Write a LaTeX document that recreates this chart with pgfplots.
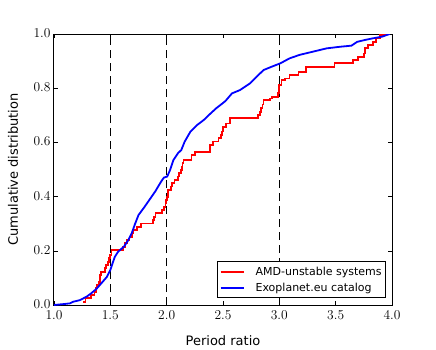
\documentclass[border=0pt]{standalone}
\usepackage{fontspec}
\usepackage{pgfplots}
\pgfplotsset{compat=1.18}
\newfontfamily\dejavu{DejaVu Sans}
\begin{document}
\begin{tikzpicture}
\begin{axis}[
  scale only axis, width=338pt, height=271pt,
  xmin=1, xmax=4, ymin=0, ymax=1,
  xtick={1,1.5,2,2.5,3,3.5,4},
  ytick={0,0.2,0.4,0.6,0.8,1},
  /pgf/number format/assume math mode=true,
  xticklabel style={/pgf/number format/.cd,fixed,fixed zerofill,precision=1,/tikz/.cd,yshift=-2pt},
  yticklabel style={/pgf/number format/.cd,fixed,fixed zerofill,precision=1,/tikz/.cd,yshift=1pt},
  ticklabel style={font=\fontsize{13.5}{15}\selectfont},
  tick align=inside, major tick length=4pt,
  tick style={black, line width=0.6pt},
  axis line style={black, line width=1pt},
  xlabel={Period ratio}, ylabel={Cumulative distribution},
  label style={font=\dejavu\fontsize{13}{15}\selectfont},
  xlabel style={at={(axis description cs:0.5,-0.1476)}, anchor=base},
  ylabel style={at={(axis description cs:-0.1065,0.5)}, anchor=base, rotate=0},
  legend style={at={(axis description cs:0.9822,0.0258)}, anchor=south east,
    draw=black, line width=0.8pt, font=\dejavu\fontsize{11}{13}\selectfont,
    inner xsep=2pt, inner ysep=3pt, row sep=2pt,
    nodes={inner sep=2pt},
    /tikz/every odd column/.append style={column sep=9pt}},
  legend cell align=left,
  legend image code/.code={\draw[#1, line width=1.8pt] (0pt,0pt) -- (23pt,0pt);},
  clip=true,
]
\addplot [black, line width=1.6pt, dash pattern=on 8pt off 5pt, forget plot] coordinates {(1.5,0) (1.5,1)};
\addplot [black, line width=1.6pt, dash pattern=on 8pt off 5pt, forget plot] coordinates {(2,0) (2,1)};
\addplot [black, line width=1.6pt, dash pattern=on 8pt off 5pt, forget plot] coordinates {(3,0) (3,1)};
\addplot [red, line width=1.8pt, const plot mark left] coordinates {
(1.26,0.012) (1.28,0.025) (1.33,0.037) (1.36,0.049) (1.37,0.062) (1.38,0.074)
(1.40,0.086) (1.405,0.099) (1.41,0.111) (1.42,0.123) (1.45,0.136) (1.46,0.148)
(1.48,0.160) (1.49,0.173) (1.50,0.185) (1.51,0.203) (1.61,0.215) (1.63,0.228)
(1.645,0.240) (1.67,0.252) (1.69,0.265) (1.70,0.277) (1.74,0.289) (1.77,0.301)
(1.88,0.314) (1.89,0.326) (1.90,0.339) (1.96,0.351) (1.975,0.363) (1.99,0.376)
(1.995,0.388) (2.005,0.400) (2.01,0.412) (2.015,0.424) (2.04,0.437) (2.05,0.449)
(2.07,0.461) (2.10,0.474) (2.11,0.486) (2.125,0.498) (2.135,0.510) (2.14,0.523)
(2.15,0.535) (2.22,0.554) (2.25,0.566) (2.385,0.590) (2.41,0.603) (2.46,0.615)
(2.48,0.627) (2.49,0.640) (2.50,0.658) (2.53,0.670) (2.56,0.689) (2.81,0.701)
(2.83,0.713) (2.84,0.726) (2.85,0.740) (2.86,0.756) (2.92,0.762) (2.935,0.768)
(2.99,0.781) (2.995,0.795) (3.00,0.812) (3.02,0.830) (3.05,0.836) (3.09,0.849)
(3.17,0.861) (3.24,0.879) (3.49,0.892) (3.655,0.904) (3.70,0.916) (3.75,0.928)
(3.76,0.947) (3.79,0.959) (3.83,0.971) (3.86,0.984) (3.89,0.996) (3.93,1.0) (3.97,1.0)
};
\addlegendentry{AMD-unstable systems}
\addplot [blue, line width=1.8pt] coordinates {
(1.00,0.000) (1.05,0.002) (1.10,0.004) (1.14,0.006) (1.17,0.012) (1.23,0.018)
(1.29,0.031) (1.33,0.043) (1.38,0.061) (1.42,0.080) (1.47,0.104) (1.50,0.129)
(1.52,0.154) (1.54,0.178) (1.57,0.197) (1.62,0.215) (1.66,0.240) (1.69,0.265)
(1.72,0.300) (1.75,0.332) (1.80,0.360) (1.85,0.390) (1.90,0.420) (1.95,0.455)
(1.975,0.470) (2.005,0.474) (2.03,0.498) (2.06,0.535) (2.10,0.560) (2.13,0.572)
(2.16,0.603) (2.21,0.639) (2.27,0.664) (2.33,0.683) (2.385,0.705) (2.44,0.726)
(2.52,0.752) (2.58,0.781) (2.65,0.793) (2.74,0.818) (2.80,0.843) (2.86,0.867)
(2.93,0.879) (3.01,0.892) (3.09,0.910) (3.18,0.923) (3.30,0.935) (3.42,0.947)
(3.54,0.953) (3.64,0.957) (3.69,0.971) (3.76,0.978) (3.83,0.984) (3.91,0.990)
(3.98,1.000)
};
\addlegendentry{Exoplanet.eu catalog}
\end{axis}
\useasboundingbox ([xshift=-54pt,yshift=-44pt]current axis.south west) rectangle ([xshift=44pt,yshift=34pt]current axis.north east);
\end{tikzpicture}
\end{document}
